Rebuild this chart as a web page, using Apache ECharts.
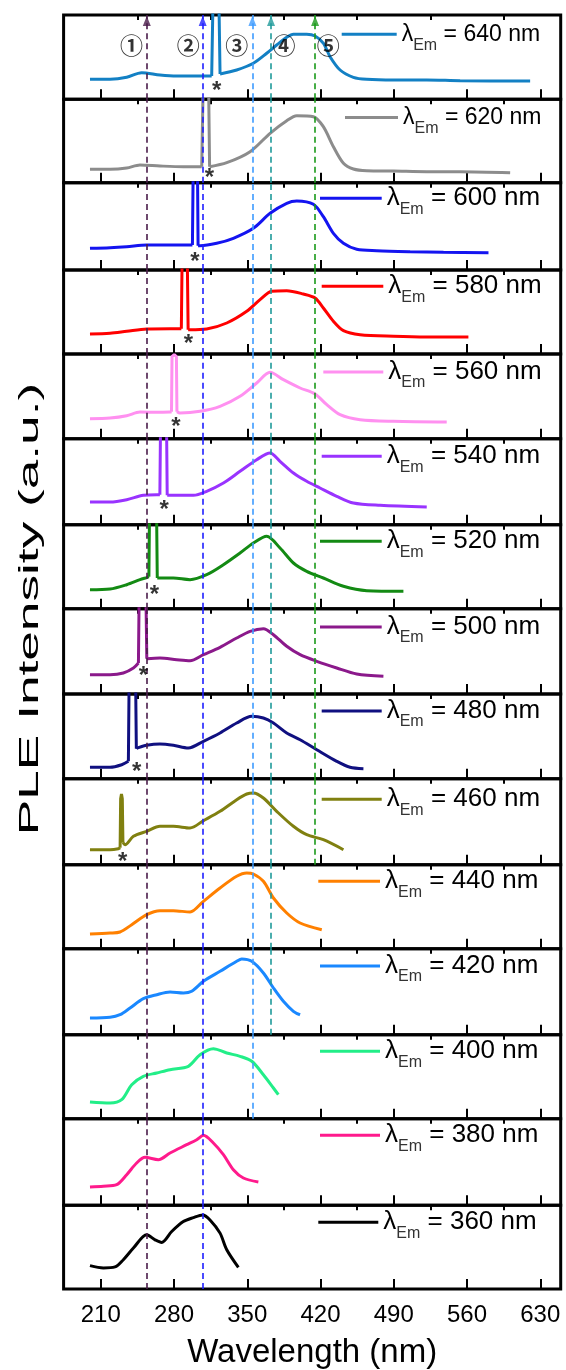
<!DOCTYPE html>
<html><head><meta charset="utf-8">
<script src="https://cdn.jsdelivr.net/npm/echarts@6/dist/echarts.min.js"></script>
<style>html,body{margin:0;padding:0;background:#fff}#c{width:566px;height:1370px}</style>
</head><body><div id="c"></div>
<script>
// ---------------- data ----------------
const emWavelengths = [640,620,600,580,560,540,520,500,480,460,440,420,400,380,360];
const lineColors = ['#1380c4','#8c8c8c','#1414f0','#ff0000','#ff90f0','#9933ff','#138a13','#8b198b','#101080','#808010','#ff8000','#1a88ff','#22ee88','#ff1a8c','#000000'];

const em640 = [[199.7,20],[218.9,20],[234.8,22],[249.1,26.6],[266.6,24.3],[282.6,23.3],[304.9,23.3],[316,23.3],[317.6,120],[322.6,120],[324,25.3],[339.9,29.3],[355.8,36],[368.6,46],[378.1,54.3],[387.7,62],[394.1,65],[406.8,65],[414.8,63.3],[422.8,56],[429.1,42.6],[438.7,29.3],[451.4,22],[464.2,20],[489.7,19.3],[521.5,19.3],[553.4,18.6],[620.3,18.3]];
const em620 = [[199.7,13.4],[218.9,13.4],[234.8,14.7],[247.5,17.7],[266.6,16.7],[289,16],[306.5,16],[308.2,120],[312.8,120],[314,16],[330.4,20],[352.7,31],[371.8,49.4],[387.7,62],[397.3,67],[413.2,66],[422.7,56],[432.3,36],[441.9,19.4],[451.4,13.7],[464.2,12],[489.7,11.7],[521.5,11],[553.4,11],[601.2,10]];
const em600 = [[199.7,21.7],[218.9,22.3],[234.8,23.3],[253.9,25],[276.2,25],[295.3,25],[297.6,25],[298.5,120],[302.3,120],[303,24.3],[304.9,24.3],[320.8,26.7],[336.7,31.7],[355.8,41.7],[371.8,56.7],[387.7,66.7],[397.3,69],[413.2,65.7],[422.7,53.3],[432.3,36.7],[441.9,26.7],[454.6,20.7],[473.7,19.3],[505.6,18.3],[537.5,17.7],[580.5,17.3]];
const em580 = [[199.7,20],[218.9,20.7],[234.8,22.7],[253.9,25],[276.2,25.3],[287,25.3],[288,120],[292.4,120],[293.5,24.3],[295.3,24.3],[311.2,25],[330.4,31],[349.5,42.7],[362.2,54.3],[373.4,62.7],[387.7,63.3],[403.6,60],[414.8,56],[422.7,46],[432.3,32.7],[441.9,23.3],[457.8,19.3],[489.7,17.7],[521.5,17],[561.3,17]];
const em560 = [[199.7,20],[218.9,20.7],[234.8,23],[247.5,26.7],[263.5,26.4],[276.2,26.7],[277.6,27],[278.1,82],[280.2,84],[282.3,82],[282.8,27],[285.8,25.7],[304.9,27.4],[324,32.4],[343.1,42.4],[359,55.7],[371.8,66.4],[384.5,59],[400.5,50.7],[414.8,44.7],[426,34],[438.7,24],[457.8,19],[489.7,17.4],[540.6,16.7]];
const em540 = [[199.7,22.7],[218.9,22.7],[234.8,25],[250.7,29.4],[263.5,30],[266.5,30],[267.3,120],[272.7,120],[273.5,29.4],[274.6,29.4],[298.5,29.4],[311.2,33.4],[327.2,41.7],[343.1,53.4],[359,65],[371.8,71.7],[381.3,63.4],[394.1,51.7],[406.8,43.4],[419.5,36.7],[435.5,28.4],[451.4,21.7],[476.9,19.4],[521.5,17.7]];
const em520 = [[199.7,19],[218.9,19.7],[234.8,24],[247.5,29],[254.5,31.4],[256,32],[256.8,120],[263.1,120],[264,30.7],[265,30.7],[279.4,30.7],[295.3,29],[311.2,34],[327.2,44],[343.1,55.7],[355.8,65.7],[368.6,72.4],[381.3,60.7],[394.1,45.7],[406.8,37.4],[422.7,30.7],[441.9,22.4],[464.2,18],[499.2,17.4]];
const em500 = [[199.7,19.3],[218.9,19.3],[231.6,21],[241.2,26],[246,31],[246.9,120],[252.9,120],[254,35.3],[254.5,35.3],[266.6,36],[282.6,34.3],[295.3,33.3],[308.1,39.3],[324,46.7],[339.9,56],[352.7,62.7],[365.4,65.3],[375,59.3],[387.7,47.7],[400.5,39.3],[416.4,32.7],[435.5,26],[454.6,20],[480.1,17.7]];
const em480 = [[199.7,11.4],[218.9,11.4],[230,14],[236.4,17.4],[237.3,120],[243.1,120],[244,30],[245,30.7],[253.9,33.4],[266.6,34.7],[279.4,33.4],[293.7,30.7],[308.1,37.4],[324,45.7],[339.9,55.7],[354.3,62.4],[365.4,60.7],[375,55.7],[387.7,45.7],[400.5,39],[416.4,29],[435.5,17.4],[448.2,11.4],[461,10]];
const em460 = [[199.7,15],[218.9,15],[226.8,16],[228.5,17],[229,66],[229.8,70.7],[230.6,66],[231.2,22],[233.2,20],[241.2,28.4],[253.9,33.4],[266.6,38.4],[279.4,38.4],[295.3,36.7],[308.1,44],[324,53.4],[339.9,65],[349.5,70.7],[355.8,71.7],[365.4,66.7],[378.1,53.4],[394.1,38.4],[406.8,30],[422.7,25],[441.9,15]];
const em440 = [[199.7,14.7],[218.9,15.7],[228.4,16.7],[239.6,24],[253.9,34],[266.6,38],[279.4,38],[295.3,36.7],[308.1,47.4],[324,60.7],[339.9,72.4],[349.5,75.7],[355.8,74.7],[365.4,67.4],[375,50.7],[387.7,35.7],[400.5,25.7],[421.2,19]];
const em420 = [[199.7,16.7],[218.9,17.4],[228.4,20],[238,26.7],[250.7,36],[263.5,40],[276.2,42.7],[289,41.7],[296.9,43.4],[308.1,53.4],[324,63.4],[339.9,73.4],[344.7,75.7],[354.3,73.4],[365.4,61.7],[375,46.7],[384.5,33.4],[394.1,23.4],[400.5,20]];
const em400 = [[199.7,16.7],[218.9,15.7],[230,19],[239.6,34],[250.7,42.4],[263.5,45.7],[276.2,49],[293.7,52.4],[304.9,64],[317.6,70],[330.4,65.7],[343.1,62.4],[354.3,57.4],[365.4,44],[375,30.7],[379.7,24]];
const em380 = [[199.7,18.3],[212.5,19],[225.2,20.6],[234.8,30.6],[244.3,42.3],[252.3,48],[265,45.6],[276.2,52.3],[292.1,60.6],[301.7,65.6],[308.1,70],[317.6,62.3],[327.2,50.6],[336.7,35.6],[346.3,27.3],[360.6,23.3]];
const em360 = [[199.7,23.5],[212.5,21.2],[223.6,22.2],[231.6,29.5],[241.2,41.2],[253.9,54.5],[261.9,49.5],[268.2,46.8],[277.8,57.8],[288.9,67.8],[298.5,71.8],[307.4,74.5],[314.4,69.5],[324,56.2],[330.4,39.5],[341.5,21.8]];
const spectra = [em640,em620,em600,em580,em560,em540,em520,em500,em480,em460,em440,em420,em400,em380,em360];
// index of first and last point of each sharp spike (panels 0..9)
const spikeIdx = [[7,10],[6,9],[6,9],[5,8],[6,10],[5,8],[5,8],[4,7],[3,6],[3,7]];

// asterisks marking the sharp spikes, panels 0..9
const starWl = [320.8,313.8,300.1,293.7,281.9,270.5,261.2,250.7,244.3,231];
const starH  = [14.3,10,13.3,15.3,17.4,20.7,19,23.3,12.4,8.4];

// numbered vertical guide lines
const markerWl = [254,307.4,354.9,372.7,414.8];
const markerLabels = ['①','②','③','④','⑤'];
const markerLabelWl = [239.5,293.7,339.9,385.2,427.5];
const markerPanels = [15,15,13,12,10];
const markerColors = ['#4a1c4a','#1f1fff','#3d9bff','#1f9a9a','#1a991a'];

const tickLabels = [210,280,350,420,490,560,630];
const minorTicks = [245,315,385,455,525,595];

// ---------------- layout ----------------
const FONT = 'Liberation Sans, Arial, sans-serif';
const GL = 63.6, GR = 560.7;
const bounds = [15,99.3,182.7,270,354,438.7,524.7,608.7,694,778.7,864.7,948.7,1034.7,1118.7,1205.3,1289.5];
const X_MIN = 174.5, X_MAX = 649.5;
const legLineY = [41.7,125,204.3,292.3,378,462.3,547.3,633,717,805.3,887.3,972,1057.3,1141.3,1228.3];
const legLeft = [341.7,345,320,321.7,323.3,321.7,320,320,321.7,321.7,318.3,320,320,320,318.3];
const legLen  = [55,53,61.7,61.6,60,60,61.7,61.7,60,60,61.7,60,60,60,60];

const grids=[], xAxes=[], yAxes=[], series=[], legends=[];
emWavelengths.forEach((em,i)=>{
  const top = bounds[i], h = bounds[i+1]-bounds[i];
  const last = i === emWavelengths.length-1;
  const name = 'λEm = ' + em + ' nm';
  grids.push({left:GL, top:top, width:GR-GL, height:h, show:true, borderColor:'#000', borderWidth:3, backgroundColor:'transparent'});
  xAxes.push({gridIndex:i, type:'value', min:X_MIN, max:X_MAX,
    axisLine:{show:false}, splitLine:{show:false},
    axisTick:{show:true, inside:true, length:10, customValues:tickLabels, lineStyle:{color:'#000', width:2}},
    axisLabel:{show:last, customValues:tickLabels, margin:14, fontSize:24, color:'#000', fontFamily:FONT},
    name: last ? 'Wavelength (nm)' : '', nameLocation:'middle', nameGap:47,
    nameTextStyle:{fontSize:33, color:'#000', fontFamily:FONT}});
  xAxes.push({gridIndex:i, type:'value', min:X_MIN, max:X_MAX,
    axisLine:{show:false}, splitLine:{show:false},
    axisTick:{show:true, inside:true, length:5, customValues:minorTicks, lineStyle:{color:'#000', width:2}},
    axisLabel:{show:false}});
  yAxes.push({gridIndex:i, type:'value', min:0, max:h, show:false});

  const ml = [];
  markerWl.forEach((w,k)=>{ if (i < markerPanels[k]) ml.push({xAxis:w, lineStyle:{color:markerColors[k]}}); });
  const base = {type:'line', name:name, xAxisIndex:2*i, yAxisIndex:i, symbol:'none',
    color:lineColors[i], lineStyle:{width:3, color:lineColors[i]}, clip:true, z:3};
  const d = spectra[i];
  const parts = [];
  if (i < spikeIdx.length) {
    const [s,e] = spikeIdx[i];
    parts.push({data:d.slice(0,s+1), smooth:0.3});
    parts.push({data:d.slice(s,e+1), smooth:false});
    parts.push({data:d.slice(e), smooth:0.3});
  } else {
    parts.push({data:d, smooth:0.3});
  }
  parts.forEach((p,j)=>{
    const sr = Object.assign({}, base, p);
    if (j === 0) sr.markLine = {silent:true, symbol:'none', label:{show:false}, animation:false,
      lineStyle:{type:[6,4], width:1.6}, data:ml};
    series.push(sr);
  });
  if (i < starWl.length) {
    series.push({type:'scatter', xAxisIndex:2*i, yAxisIndex:i, data:[[starWl[i], starH[i]]], symbolSize:0, silent:true, z:5,
      label:{show:true, formatter:'*', position:'inside', offset:[0,6], fontSize:24, fontWeight:'bold', color:'#000', fontFamily:FONT}});
  }
  const fs = i < 2 ? 23 : 26;
  legends.push({data:[name], left:legLeft[i], top:legLineY[i]-19, itemWidth:legLen[i], itemHeight:3, icon:'rect',
    padding:0, itemGap:0, selectedMode:false,
    formatter:()=>'{l|λ}{s|Em}{n| = ' + em + ' nm}',
    textStyle:{color:'#000', fontFamily:FONT, fontSize:fs,
      rich:{l:{fontSize:fs, fontFamily:FONT, color:'#000'}, s:{fontSize:16, padding:[22,0,0,0], fontFamily:FONT, color:'#333'}, n:{fontSize:fs, fontFamily:FONT, color:'#000'}}}});
});

// arrowheads and circled numbers in top panel
const h0 = bounds[1]-bounds[0];
series.push({type:'scatter', xAxisIndex:0, yAxisIndex:0, symbol:'triangle', symbolSize:[8,10], silent:true, z:6,
  data: markerWl.map((w,k)=>({value:[w, h0-6], itemStyle:{color:markerColors[k]}}))});
series.push({type:'scatter', xAxisIndex:0, yAxisIndex:0, symbolSize:0, silent:true, z:6,
  data: markerLabelWl.map((w,k)=>({value:[w, h0-30], name:markerLabels[k]})),
  label:{show:true, formatter:'{b}', position:'inside', fontSize:23, fontWeight:'bold', color:'#000', fontFamily:'Noto Sans CJK SC'}});

const chart = echarts.init(document.getElementById('c'), null, {renderer:'canvas'});
chart.setOption({
  animation:false,
  backgroundColor:'#fff',
  grid:grids, xAxis:xAxes, yAxis:yAxes, series:series, legend:legends,
  graphic:[{type:'text', x:30, y:609, rotation:Math.PI/2, scaleX:1.9,
    style:{text:'PLE Intensity (a.u.)', font:'28px Liberation Sans', fill:'#000', align:'center', verticalAlign:'middle'}}]
});
</script></body></html>
